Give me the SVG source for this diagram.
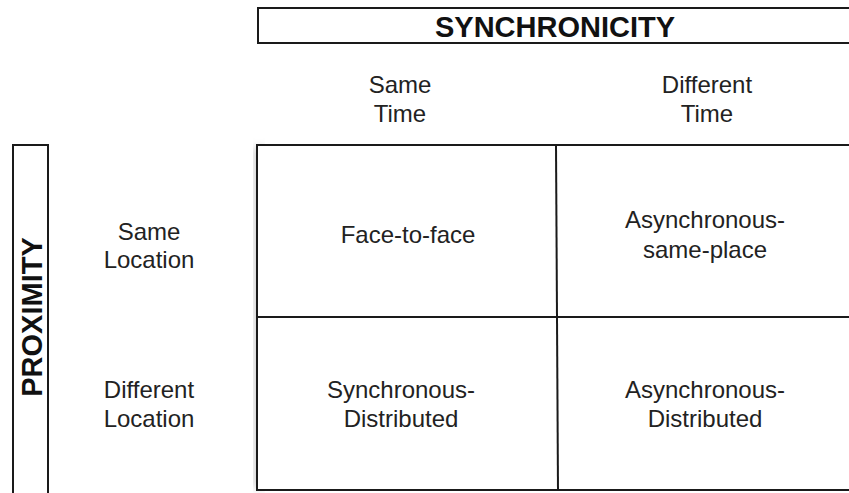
<svg xmlns="http://www.w3.org/2000/svg" width="849" height="493" viewBox="0 0 849 493">
<defs>
<style>
.box{fill:#fff;stroke:#1a1a1a;stroke-width:2}
.ln{stroke:#1a1a1a;stroke-width:2;fill:none}
.hd{font-family:"Liberation Sans",Arial,sans-serif;font-weight:bold;font-size:29px;fill:#111;text-anchor:middle}
.t{font-family:"Liberation Sans",Arial,sans-serif;font-size:24px;fill:#222;text-anchor:middle}
</style>
<filter id="sh" x="-10%" y="-10%" width="120%" height="120%">
<feGaussianBlur stdDeviation="4"/>
</filter>
</defs>
<rect width="849" height="493" fill="#fff"/>
<g id="synchronicity">
<rect class="box" x="258" y="8" width="600" height="35"/>
<text class="hd" x="555" y="37">SYNCHRONICITY</text>
</g>
<g id="proximity">
<rect class="box" x="13" y="145" width="35" height="360"/>
<text class="hd" transform="translate(42,317) rotate(-90)" x="0" y="0">PROXIMITY</text>
</g>
<g id="col-same-time">
<text class="t" x="400" y="93">Same</text>
<text class="t" x="400" y="122">Time</text>
</g>
<g id="col-different-time">
<text class="t" x="707" y="93">Different</text>
<text class="t" x="707" y="122">Time</text>
</g>
<g id="row-same-location">
<text class="t" x="149" y="240">Same</text>
<text class="t" x="149" y="268">Location</text>
</g>
<g id="row-different-location">
<text class="t" x="149" y="398">Different</text>
<text class="t" x="149" y="427">Location</text>
</g>
<g id="grid">
<rect x="254" y="147" width="10" height="341" fill="#999" opacity="0.5" filter="url(#sh)"/>
<rect class="box" x="257" y="145" width="600" height="345"/>
</g>
<g id="connectors">
<line class="ln" x1="556" y1="145" x2="558" y2="490"/>
<line class="ln" x1="257" y1="317" x2="849" y2="317"/>
</g>
<g id="face-to-face">
<text class="t" x="408" y="243">Face-to-face</text>
</g>
<g id="async-same-place">
<text class="t" x="705" y="228">Asynchronous-</text>
<text class="t" x="705" y="258">same-place</text>
</g>
<g id="sync-distributed">
<text class="t" x="401" y="398">Synchronous-</text>
<text class="t" x="401" y="427">Distributed</text>
</g>
<g id="async-distributed">
<text class="t" x="705" y="398">Asynchronous-</text>
<text class="t" x="705" y="427">Distributed</text>
</g>
</svg>
